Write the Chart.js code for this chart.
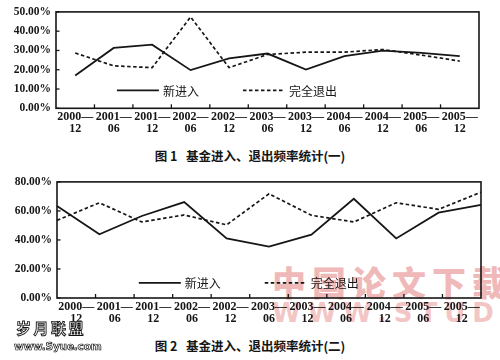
<!DOCTYPE html>
<html>
<head>
<meta charset="utf-8">
<script src="https://cdn.jsdelivr.net/npm/chart.js@4.4.1/dist/chart.umd.min.js"></script>
<style>
  html, body { margin: 0; padding: 0; background: #fff; }
  body { width: 500px; height: 360px; position: relative; overflow: hidden; }
  .cv { position: absolute; left: 0; width: 500px; z-index: 2; }
  .title { position: absolute; left: 0; width: 500px; text-align: center; white-space: pre;
           font-family: "Noto Sans CJK SC"; font-weight: bold; font-size: 12.5px; color: #151515; z-index: 3; line-height: 14px; }
  .wm { position: absolute; white-space: pre; z-index: 1; }
</style>
</head>
<body>
<div class="wm" style="left:272px; top:262px; font-family:'Noto Sans CJK SC'; font-weight:900; font-size:34px; letter-spacing:6px; color:#f0b9b9; line-height:40px;">中国论文下载</div>
<div class="wm" style="left:272px; top:299px; font-family:'DejaVu Sans'; font-weight:bold; font-size:26px; letter-spacing:7px; color:#f3c6c6; line-height:28px;">WWW.STUDA.</div>
<div class="wm" style="left:16px; top:319px; font-family:'Noto Sans CJK SC'; font-weight:bold; font-size:15px; letter-spacing:2.5px; color:#fff; -webkit-text-stroke:0.9px #111; line-height:18px; z-index:4;">岁月联盟</div>
<div class="wm" style="left:14px; top:340px; font-family:'DejaVu Sans'; font-weight:bold; font-size:10.5px; letter-spacing:-0.2px; color:#fff; -webkit-text-stroke:0.7px #111; line-height:12px; z-index:4;">www.Syue.com</div>

<canvas id="c1" class="cv" style="top:0px;" width="500" height="145"></canvas>
<div class="title" style="top:149px;">图 1   基金进入、退出频率统计(一)</div>
<canvas id="c2" class="cv" style="top:170px;" width="500" height="160"></canvas>
<div class="title" style="top:339px;">图 2   基金进入、退出频率统计(二)</div>

<script>
// ---- data ----
const catYears  = ['2000','2001','2001','2002','2002','2003','2003','2004','2004','2005','2005'];
const catMonths = ['12','06','12','06','12','06','12','06','12','06','12'];
const seriesNames = ['新进入', '完全退出'];

const entry1 = [17.0, 31.3, 33.0, 19.8, 25.9, 28.4, 20.1, 27.1, 29.9, 28.7, 27.1];
const exit1  = [28.7, 22.0, 21.1, 47.4, 21.1, 27.9, 29.1, 29.1, 30.5, 27.6, 24.5];

const entry2 = [63.4, 43.9, 56.5, 66.1, 41.0, 35.4, 43.6, 68.4, 41.0, 58.8, 64.1];
const exit2  = [53.5, 65.6, 52.4, 57.2, 50.4, 71.8, 57.0, 52.4, 65.6, 61.1, 72.9];

const yTicks1 = ['0.00%','10.00%','20.00%','30.00%','40.00%','50.00%'];
const yTicks2 = ['0.00%','20.00%','40.00%','60.00%','80.00%'];

const labels = catYears.map((y, i) => [y + '—', catMonths[i]]);

const INK = '#161616';
const tickFont = { family: 'Liberation Serif', size: 11.5, weight: 'bold' };
const xFont = { family: 'Liberation Serif', size: 12, weight: 'bold', lineHeight: 1.0 };

const decor = {
  id: 'decor',
  afterDatasetsDraw(chart, args, opts) {
    const ctx = chart.ctx;
    const a = chart.chartArea;
    ctx.save();
    ctx.strokeStyle = INK;
    // frame
    ctx.lineWidth = 1.6;
    ctx.setLineDash([]);
    ctx.strokeRect(a.left, a.top, a.right - a.left, a.bottom - a.top);
    // x boundary ticks (inward)
    const xs = chart.scales.x;
    ctx.lineWidth = 1.3;
    for (let i = 0; i < labels.length - 1; i++) {
      const px = (xs.getPixelForValue(i) + xs.getPixelForValue(i + 1)) / 2;
      ctx.beginPath(); ctx.moveTo(px, a.bottom); ctx.lineTo(px, a.bottom - 4); ctx.stroke();
    }
    // y ticks (inward)
    const ys = chart.scales.y;
    ys.ticks.forEach(t => {
      const py = ys.getPixelForValue(t.value);
      ctx.beginPath(); ctx.moveTo(a.left, py); ctx.lineTo(a.left + 3.5, py); ctx.stroke();
    });
    // legend inside plot
    const ly = a.top + (a.bottom - a.top) * opts.ly;
    chart.data.datasets.forEach((ds, i) => {
      const lx = a.left + (a.right - a.left) * opts.lx[i];
      ctx.strokeStyle = ds.borderColor;
      ctx.lineWidth = ds.borderWidth;
      ctx.setLineDash(ds.borderDash || []);
      ctx.beginPath(); ctx.moveTo(lx, ly); ctx.lineTo(lx + 42, ly); ctx.stroke();
      ctx.setLineDash([]);
      ctx.fillStyle = INK;
      ctx.font = '12px "Noto Sans CJK SC"';
      ctx.textBaseline = 'middle';
      ctx.textAlign = 'left';
      ctx.fillText(ds.label, lx + 46, ly + 0.5);
    });
    ctx.restore();
  }
};

function makeChart(id, e, x, maxV, step, yLabels, pad, dataAxisOffset, legendPos) {
  const scales = {
    x: {
      type: 'category', offset: true,
      grid: { display: false, drawTicks: false },
      border: { display: false },
      ticks: { color: INK, font: xFont, padding: 3, maxRotation: 0, autoSkip: false },
      afterFit: s => { s.height = 30; }
    },
    y: {
      min: 0, max: maxV,
      grid: { display: false, drawTicks: false },
      border: { display: false },
      ticks: { stepSize: step, color: INK, font: tickFont, padding: 5,
               callback: (v) => yLabels[Math.round(v / step)] },
      afterFit: s => { s.width = pad.yw; }
    }
  };
  let axisId = 'x';
  if (!dataAxisOffset) {
    scales.xd = { type: 'category', offset: false, display: false };
    axisId = 'xd';
  }
  return new Chart(document.getElementById(id), {
    type: 'line',
    data: {
      labels: labels,
      datasets: [
        { label: seriesNames[0], data: e, xAxisID: axisId, borderColor: INK, borderWidth: 1.8,
          pointRadius: 0, tension: 0, fill: false },
        { label: seriesNames[1], data: x, xAxisID: axisId, borderColor: INK, borderWidth: 1.7,
          borderDash: [3.5, 2.5], pointRadius: 0, tension: 0, fill: false }
      ]
    },
    options: {
      responsive: false, animation: false, devicePixelRatio: 1,
      layout: { padding: { left: 0, top: pad.top, right: pad.right, bottom: pad.bottom } },
      scales: scales,
      plugins: { legend: { display: false }, tooltip: { enabled: false }, title: { display: false },
                 decor: legendPos }
    },
    plugins: [decor]
  });
}

// chart 1: area left 56, right 479, top 9.5, bottom 108.3 (canvas h 145)
makeChart('c1', entry1, exit1, 50, 10, yTicks1,
  { yw: 56, top: 9.5, right: 21, bottom: 145 - 108.3 - 30 }, true,
  { lx: [0.144, 0.442], ly: 0.815 });
// chart 2: area left 57, right 481, top 11, bottom 128 (canvas h 160)
makeChart('c2', entry2, exit2, 80, 20, yTicks2,
  { yw: 57, top: 11, right: 19, bottom: 160 - 128 - 30 }, false,
  { lx: [0.193, 0.49], ly: 0.87 });
</script>
</body>
</html>
